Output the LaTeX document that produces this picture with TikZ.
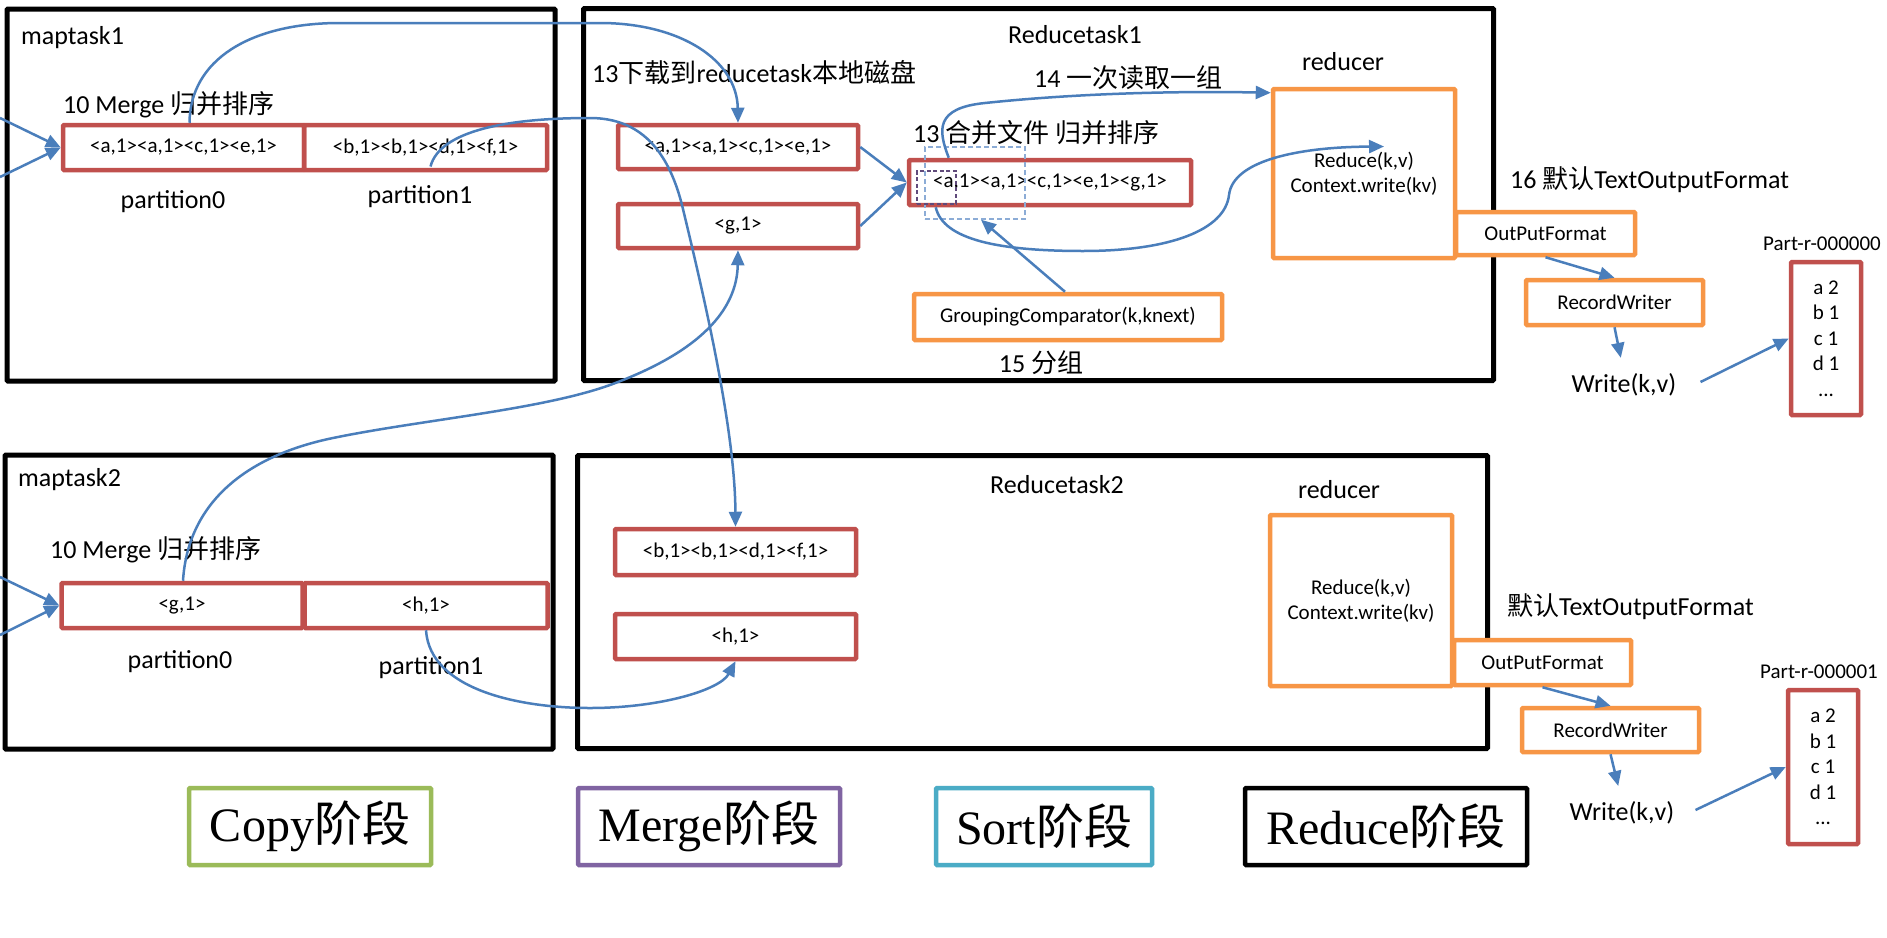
\documentclass[tikz,border=0pt]{standalone}
\usepackage{fontspec}
\setmainfont{Carlito}
\newfontfamily\cjk{Noto Sans CJK SC}
\newfontfamily\tnr{Liberation Serif}
\usetikzlibrary{arrows.meta,calc}
\definecolor{cred}{RGB}{192,80,77}
\definecolor{corange}{RGB}{247,150,70}
\definecolor{cblue}{RGB}{74,126,187}
\definecolor{cgreen}{RGB}{155,187,89}
\definecolor{cpurple}{RGB}{128,100,162}
\definecolor{cteal}{RGB}{75,172,198}
\definecolor{cdash}{RGB}{140,172,214}
\definecolor{cpdash}{RGB}{96,74,123}
\newcommand\fsz[2]{\fontsize{#1}{#2}\selectfont}
\tikzset{
  frame/.style={draw=black, line width=5pt, inner sep=0pt, rounded corners=1pt},
  redbox/.style={draw=cred, line width=4.5pt, inner sep=0pt, rounded corners=1pt, font=\fsz{21}{25}},
  orangebox/.style={draw=corange, line width=4.5pt, inner sep=0pt, rounded corners=1pt, fill=white, font=\fsz{21}{25}, align=center},
  lbl/.style={inner sep=0pt, font=\fsz{26}{31}},
  sml/.style={inner sep=0pt, font=\fsz{21}{25}},
  conn/.style={draw=cblue, line width=2.5pt, -{Triangle[length=15pt,width=13pt]}},
  phase/.style={line width=4.5pt, inner sep=0pt, rounded corners=1pt, fill=white, font=\fsz{48}{58}, minimum height=77pt},
  dashbox/.style={draw=cdash, line width=1.5pt, dash pattern=on 5pt off 3pt, inner sep=0pt},
  pdashbox/.style={draw=cpdash, line width=1.5pt, dash pattern=on 4pt off 2.5pt, inner sep=0pt}
}
\begin{document}
\begin{tikzpicture}[x=1pt, y=-1pt]
\fill[white] (0,0) rectangle (1887,937);
\useasboundingbox (0,0) rectangle (1887,937);

% task frames
\node[frame, minimum width=548pt, minimum height=372pt] (map1) at (281,195) {};
\node[frame, minimum width=548pt, minimum height=294pt] (map2) at (279,602) {};
\node[frame, minimum width=910pt, minimum height=372pt] (red1) at (1038.5,194.5) {};
\node[frame, minimum width=910pt, minimum height=293pt] (red2) at (1032.5,602) {};

% maptask1
\node[lbl, anchor=west] (m1t) at (21,38) {maptask1};
\node[lbl, anchor=west] (m1merge) at (63,105) {10 Merge {\cjk 归并排序}};
\node[redbox, minimum width=241pt, minimum height=45pt] (p1a) at (183.5,147.5) {<a,1><a,1><c,1><e,1>};
\node[redbox, minimum width=243pt, minimum height=45pt] (p1b) at (425.5,147.5) {<b,1><b,1><d,1><f,1>};
\node[lbl] (m1p0) at (173,202) {partition0};
\node[lbl] (m1p1) at (420,197) {partition1};

% maptask2
\node[lbl, anchor=west] (m2t) at (18,480) {maptask2};
\node[lbl, anchor=west] (m2merge) at (50,550) {10 Merge {\cjk 归并排序}};
\node[redbox, minimum width=241pt, minimum height=45pt] (p2a) at (182,605.5) {<g,1>};
\node[redbox, minimum width=243pt, minimum height=45pt] (p2b) at (426,605.5) {<h,1>};
\node[lbl] (m2p0) at (180,662) {partition0};
\node[lbl] (m2p1) at (431,668) {partition1};

% reducetask1
\node[lbl] (r1t) at (1075,35) {Reducetask1};
\node[lbl, anchor=west] (r1dl) at (592,73) {13{\cjk 下载到}reducetask{\cjk 本地磁盘}};
\node[redbox, minimum width=240pt, minimum height=44pt] (r1b1) at (738,147) {<a,1><a,1><c,1><e,1>};
\node[redbox, minimum width=240pt, minimum height=44pt] (r1b2) at (738,226) {<g,1>};
\node[lbl, anchor=west] (r1mg) at (913,133) {13 {\cjk 合并文件 归并排序}};
\node[redbox, minimum width=282pt, minimum height=45pt] (merged) at (1050,182.5) {<a,1><a,1><c,1><e,1><g,1>};
\node[dashbox, minimum width=100pt, minimum height=72pt] (dsort) at (975,183) {};
\node[pdashbox, minimum width=39pt, minimum height=33pt] (dkey) at (936.5,187.5) {};
\node[lbl, anchor=west] (r1rd) at (1034,78) {14 {\cjk 一次读取一组}};
\node[lbl] (r1rl) at (1343,62) {reducer};
\node[orangebox, minimum width=182pt, minimum height=169pt] (rdc1) at (1364,173.5) {Reduce(k,v)\\Context.write(kv)};
\node[orangebox, minimum width=308pt, minimum height=46pt] (grp) at (1068,317) {GroupingComparator(k,knext)};
\node[lbl] (r1grp) at (1041,363) {15 {\cjk 分组}};

% output 1
\node[lbl, anchor=west] (of1lbl) at (1510,180) {16 {\cjk 默认}TextOutputFormat};
\node[orangebox, minimum width=179pt, minimum height=43pt] (of1) at (1545.5,233.5) {OutPutFormat};
\node[orangebox, minimum width=177pt, minimum height=45pt] (rw1) at (1614.5,302.5) {RecordWriter};
\node[lbl] (w1) at (1624,385) {Write(k,v)};
\node[sml] (pr1) at (1822,244) {Part-r-000000};
\node[redbox, minimum width=70pt, minimum height=153pt, align=center, font=\fsz{21}{25.5}] (part1) at (1826,338.5) {a 2\\b 1\\c 1\\d 1\\...};

% reducetask2
\node[lbl] (r2t) at (1057,485) {Reducetask2};
\node[redbox, minimum width=241pt, minimum height=46pt] (r2b1) at (735.5,552) {<b,1><b,1><d,1><f,1>};
\node[redbox, minimum width=241pt, minimum height=45pt] (r2b2) at (735.5,636.5) {<h,1>};
\node[lbl] (r2rl) at (1339,490) {reducer};
\node[orangebox, minimum width=182pt, minimum height=171pt] (rdc2) at (1361,600.5) {Reduce(k,v)\\Context.write(kv)};

% output 2
\node[lbl, anchor=west] (of2lbl) at (1507,607) {{\cjk 默认}TextOutputFormat};
\node[orangebox, minimum width=177pt, minimum height=45pt] (of2) at (1542.5,662.5) {OutPutFormat};
\node[orangebox, minimum width=177pt, minimum height=44pt] (rw2) at (1610.5,730) {RecordWriter};
\node[lbl] (w2) at (1622,813) {Write(k,v)};
\node[sml] (pr2) at (1819,672) {Part-r-000001};
\node[redbox, minimum width=70pt, minimum height=154pt, align=center, font=\fsz{21}{25.5}] (part2) at (1823,767) {a 2\\b 1\\c 1\\d 1\\...};

% phases
\node[phase, draw=cgreen, minimum width=242pt] (ph1) at (310,826.5) {{\tnr Copy}{\cjk 阶段}};
\node[phase, draw=cpurple, minimum width=262pt] (ph2) at (709,826.5) {{\tnr Merge}{\cjk 阶段}};
\node[phase, draw=cteal, minimum width=216pt] (ph3) at (1044,826.5) {{\tnr Sort}{\cjk 阶段}};
\node[phase, draw=black, minimum width=282pt] (ph4) at (1386,826.5) {{\tnr Reduce}{\cjk 阶段}};

% connectors
\coordinate (l1a) at (0,118);
\coordinate (l1b) at (0,177);
\coordinate (l2a) at (0,577);
\coordinate (l2b) at (0,635);
\draw[conn] (l1a) -- (p1a.west);
\draw[conn] (l1b) -- (p1a.west);
\draw[conn] (l2a) -- (p2a.west);
\draw[conn] (l2b) -- (p2a.west);

\draw[conn] ($(p1a.north)+(6,0)$) .. controls (190,60) and (250,23) .. (340,23) -- (600,23) .. controls (680,23) and (737,60) .. (r1b1.north);
\draw[conn] ($(p1b.center)+(5,19)$) .. controls (440,130) and (510,118) .. (590,118) .. controls (640,118) and (668,150) .. (682,205) .. controls (705,300) and (735,430) .. (r2b1.north);
\draw[conn] ($(p2a.north)+(1,0)$) .. controls (188,500) and (250,455) .. (333,438) .. controls (420,420) and (540,410) .. (610,385) .. controls (700,352) and (737,310) .. (r1b2.south);
\draw[conn] (p2b.south) .. controls (430,690) and (520,708) .. (590,708) .. controls (660,708) and (720,690) .. (r2b2.south);

\draw[conn] (r1b1.east) -- (merged.west);
\draw[conn] (r1b2.east) -- (merged.west);
\draw[conn] ($(merged.north west)+(42,0)$) .. controls (938,130) and (935,108) .. (985,103) .. controls (1080,93) and (1180,91) .. ($(rdc1.north west)+(0,6)$);
\draw[conn] ($(merged.south west)+(29,0)$) .. controls (943,240) and (1000,251) .. (1083,251) .. controls (1170,251) and (1225,230) .. (1229,195) .. controls (1233,160) and (1300,147) .. ($(rdc1.center)+(20,-27)$);
\draw[conn] ($(grp.north)+(-3,0)$) -- ($(dsort.south)+(6,0)$);

\draw[conn] (of1.south) -- (rw1.north);
\draw[conn, shorten >=16pt] (rw1.south) -- (w1.north);
\draw[conn] ($(w1.east)+(24,-3)$) -- (part1.west);
\draw[conn] (of2.south) -- (rw2.north);
\draw[conn, shorten >=16pt] (rw2.south) -- (w2.north);
\draw[conn] ($(w2.east)+(21,-3)$) -- (part2.west);
\end{tikzpicture}
\end{document}
